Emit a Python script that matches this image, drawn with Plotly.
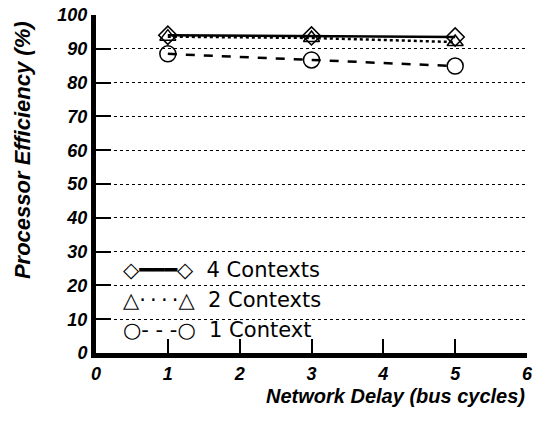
import plotly.graph_objects as go

# network delay (bus cycles)
delay = [1, 3, 5]

# processor efficiency (%)
eff_4ctx = [94.0, 93.8, 93.5]
eff_2ctx = [93.6, 93.2, 92.0]
eff_1ctx = [88.5, 86.7, 84.9]

series_names = ["4 Contexts", "2 Contexts", "1 Context"]
legend_keys = ["◇━━━◇", "△·\u2009·\u2009·\u2009·△", "○- - -○"]

x_ticks = [0, 1, 2, 3, 4, 5, 6]
y_ticks = [0, 10, 20, 30, 40, 50, 60, 70, 80, 90, 100]

FONT = "Liberation Sans, Arial, Helvetica, sans-serif"
BI = dict(family=FONT, color="black", weight="bold", style="italic")

fig = go.Figure()

styles = [
    dict(symbol="diamond-open", size=14, dash="solid"),
    dict(symbol="triangle-up-open", size=14, dash="dot"),
    dict(symbol="circle-open", size=16, dash="dash"),
]
for name, ys, st in zip(series_names, [eff_4ctx, eff_2ctx, eff_1ctx], styles):
    fig.add_trace(
        go.Scatter(
            x=delay,
            y=ys,
            name=name,
            mode="lines+markers",
            line=dict(color="black", width=2.5, dash=st["dash"]),
            marker=dict(symbol=st["symbol"], size=st["size"], color="black",
                        line=dict(color="black", width=1.5)),
            showlegend=False,
        )
    )

fig.update_xaxes(
    range=[0, 6],
    tickvals=x_ticks,
    ticks="inside",
    ticklen=14,
    tickwidth=2,
    tickcolor="black",
    showline=True,
    linewidth=5,
    linecolor="black",
    showgrid=False,
    zeroline=False,
    tickfont=dict(size=18, **BI),
)
fig.update_yaxes(
    range=[0, 100],
    tickvals=y_ticks,
    ticks="inside",
    ticklen=15,
    tickwidth=2,
    tickcolor="black",
    showline=True,
    linewidth=5,
    linecolor="black",
    showgrid=True,
    gridcolor="black",
    griddash="dot",
    gridwidth=1,
    zeroline=False,
    tickfont=dict(size=18, **BI),
    automargin=False,
)

# axis titles (y title sits above the plot's middle in the original)
fig.add_annotation(
    text="Processor Efficiency (%)",
    xref="paper", yref="paper", x=-0.172, y=0.60, textangle=-90,
    xanchor="center", yanchor="middle", showarrow=False,
    font=dict(size=22, **BI),
)
fig.add_annotation(
    text="Network Delay (bus cycles)",
    xref="paper", yref="paper", x=1.0, y=-0.088,
    xanchor="right", yanchor="top", showarrow=False,
    font=dict(size=20, **BI),
)

# legend drawn as text rows in the lower-left of the plot
for i, (key, name) in enumerate(zip(legend_keys, series_names)):
    fig.add_annotation(
        text=f"{key}\u00a0 {name}",
        xref="paper", yref="paper", x=0.058, y=0.245 - i * 0.088,
        xanchor="left", yanchor="middle", showarrow=False,
        font=dict(family="DejaVu Sans, Liberation Sans, sans-serif", size=21, color="black"),
    )

fig.update_layout(
    width=536,
    height=421,
    margin=dict(l=96, r=9, t=15, b=68, autoexpand=False),
    paper_bgcolor="white",
    plot_bgcolor="white",
    showlegend=False,
)

fig.write_html(
    "out.html",
    config={"displayModeBar": False},
    post_script="document.body.style.margin='0';",
)
